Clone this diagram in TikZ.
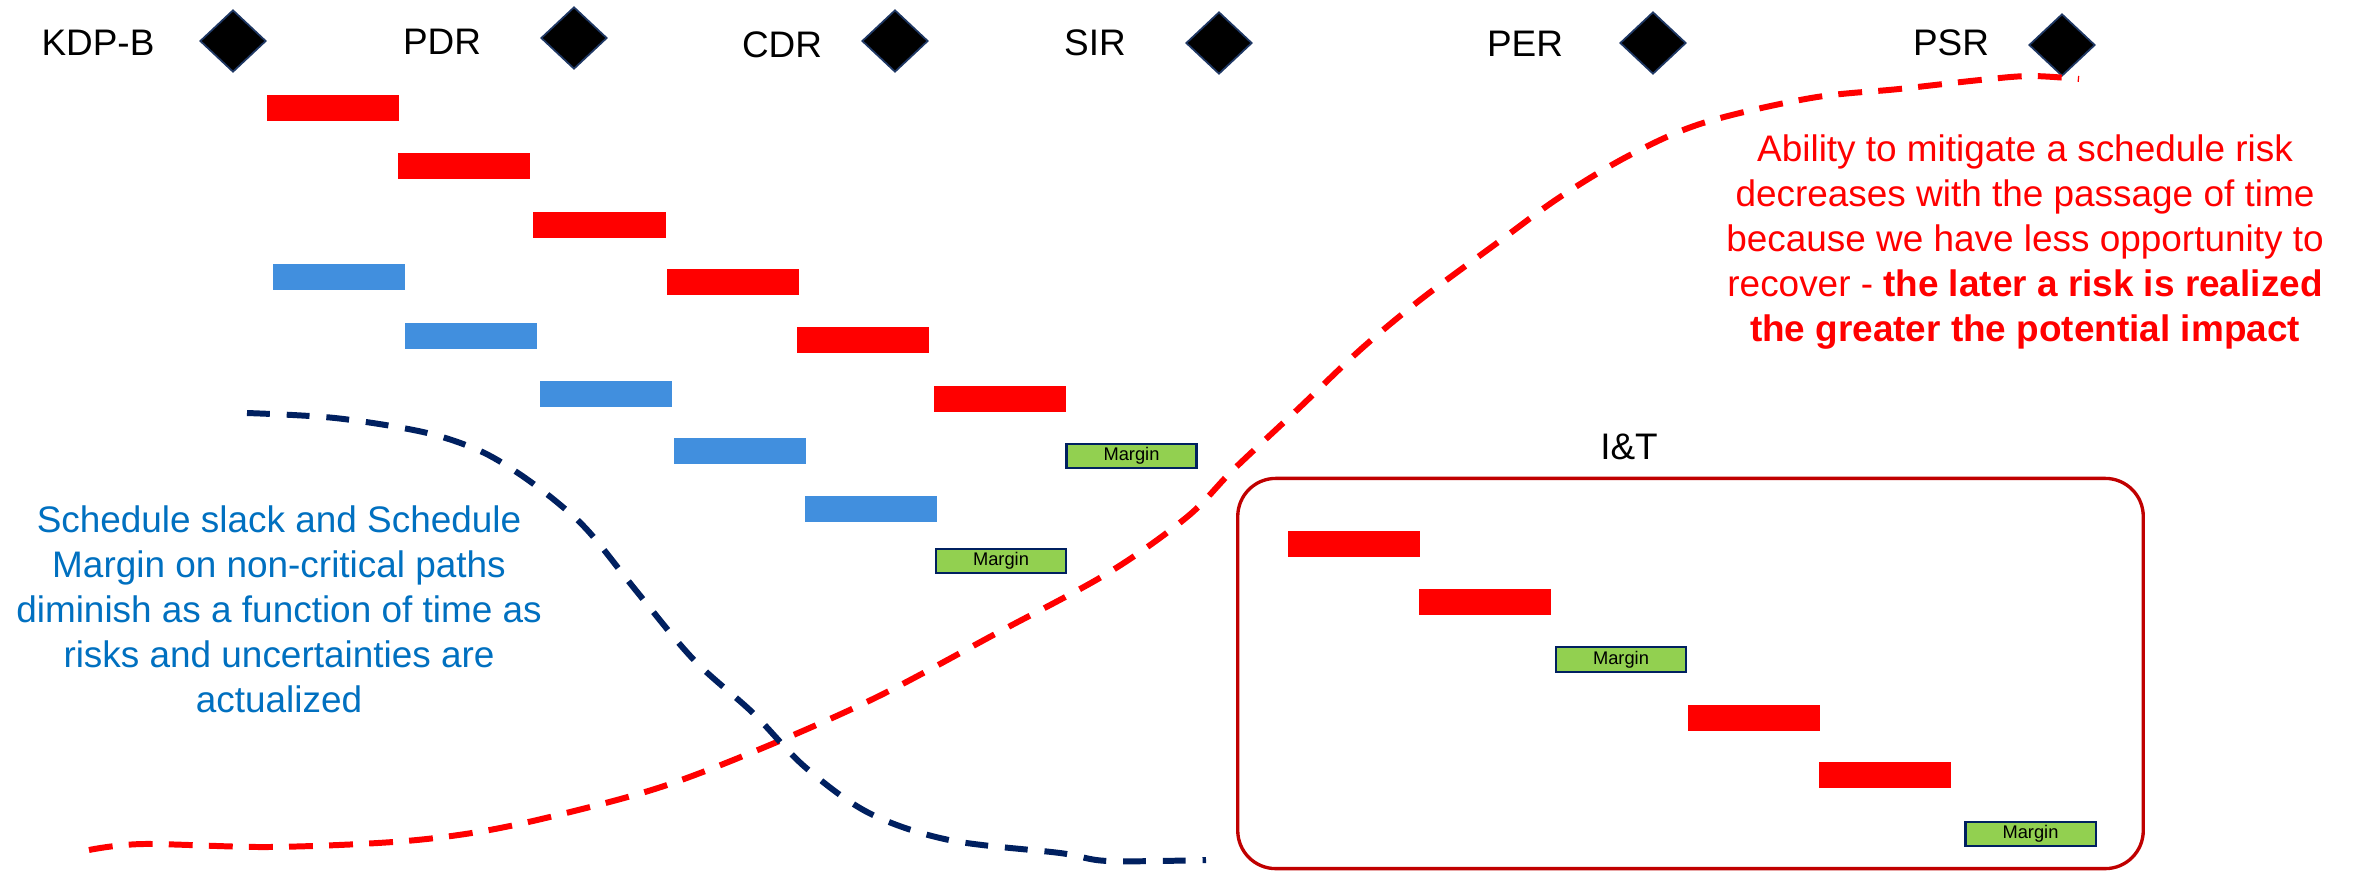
\documentclass[tikz,border=0pt]{standalone}
\usepackage{fontspec}
\setmainfont{Liberation Sans}
\usetikzlibrary{shapes.geometric}
\definecolor{barred}{RGB}{255,0,0}
\definecolor{barblue}{RGB}{65,143,222}
\definecolor{navy}{RGB}{0,32,96}
\definecolor{margingreen}{RGB}{146,208,80}
\definecolor{boxred}{RGB}{192,0,0}
\definecolor{noteblue}{RGB}{0,112,192}
\definecolor{diamondedge}{RGB}{31,56,100}

\begin{document}
\begin{tikzpicture}[x=0.01cm,y=-0.01cm,
  redbar/.style={rectangle,fill=barred,minimum width=1.32cm,minimum height=0.26cm,inner sep=0pt},
  bluebar/.style={rectangle,fill=barblue,minimum width=1.32cm,minimum height=0.26cm,inner sep=0pt},
  marginbox/.style={rectangle,fill=margingreen,draw=navy,line width=0.6pt,minimum width=1.3cm,minimum height=0.245cm,inner sep=0pt,font=\fontsize{5.2}{6}\selectfont},
  milestone/.style={diamond,fill=black,draw=diamondedge,line width=0.5pt,minimum width=0.66cm,minimum height=0.62cm,inner sep=0pt},
  msname/.style={font=\fontsize{10.5}{12.8}\selectfont,inner sep=0pt},
  riskcurve/.style={draw=barred,line width=1.7pt,dash pattern=on 6.8pt off 4.6pt},
  slackcurve/.style={draw=navy,line width=1.7pt,dash pattern=on 6.5pt off 4.8pt},
]
\fill[white] (0,0) rectangle (2354,872);
\useasboundingbox (0,0) rectangle (2354,872);

% milestone row
\node[msname] (kdpb) at (98,43) {KDP-B};
\node[milestone] (dkdpb) at (233,41) {};
\node[msname] (pdr) at (442,42) {PDR};
\node[milestone] (dpdr) at (574,38) {};
\node[msname] (cdr) at (782,45) {CDR};
\node[milestone] (dcdr) at (895,41) {};
\node[msname] (sir) at (1095,43) {SIR};
\node[milestone] (dsir) at (1219,43) {};
\node[msname] (per) at (1525,44) {PER};
\node[milestone] (dper) at (1653,43) {};
\node[msname] (psr) at (1951,43) {PSR};
\node[milestone] (dpsr) at (2062,45) {};

% critical path tasks
\node[redbar] (r1) at (333,107.5) {};
\node[redbar] (r2) at (464,165.5) {};
\node[redbar] (r3) at (599.5,224.5) {};
\node[redbar] (r4) at (733,281.5) {};
\node[redbar] (r5) at (863,340) {};
\node[redbar] (r6) at (1000,398.5) {};

% non-critical path tasks
\node[bluebar] (b1) at (339,277) {};
\node[bluebar] (b2) at (471,335.5) {};
\node[bluebar] (b3) at (606,394) {};
\node[bluebar] (b4) at (740,451) {};
\node[bluebar] (b5) at (871,508.5) {};

% schedule margins
\node[marginbox] (m1) at (1131.5,456) {Margin};
\node[marginbox] (m2) at (1001,561) {Margin};

% integration and test
\node[draw=boxred,line width=0.95pt,rounded corners=0.38cm,minimum width=9.05cm,minimum height=3.9cm,inner sep=0pt] (itbox) at (1690.5,673.5) {};
\node[msname] (itlabel) at (1629,447) {I\&T};
\node[redbar] (t1) at (1354,544) {};
\node[redbar] (t2) at (1485,602) {};
\node[marginbox] (tm1) at (1621,659.5) {Margin};
\node[redbar] (t3) at (1754,718) {};
\node[redbar] (t4) at (1885,775) {};
\node[marginbox] (tm2) at (2030.5,834) {Margin};

% risk mitigation ability over time
\draw[riskcurve] plot[smooth,tension=0.55] coordinates {
  (89,850) (143,844) (268,847) (393,842) (478,832) (558,815) (661,787)
  (765,747) (877,697) (997,633) (1108,573) (1187,517) (1233,470)
  (1297,410) (1360,350) (1420,300) (1497,243) (1560,197) (1630,155)
  (1703,123) (1811,98) (1899,89) (1980,80) (2030,76) (2079,79)};

% remaining slack over time
\draw[slackcurve] plot[smooth,tension=0.55] coordinates {
  (247,413) (335,418) (423,432) (478,450) (518,473) (558,503) (590,533)
  (638,593) (694,660) (753,713) (805,767) (869,813) (949,840)
  (1060,853) (1108,861) (1206,860)};

% notes
\node[msname,text=noteblue,align=center] (slacknote) at (279,609)
  {Schedule slack and Schedule\\Margin on non-critical paths\\diminish as a function of time as\\risks and uncertainties are\\actualized};
\node[msname,text=barred,align=center] (risknote) at (2025,242)
  {Ability to mitigate a schedule risk\\decreases with the passage of time\\because we have less opportunity to\\recover - \textbf{the later a risk is realized}\\\textbf{the greater the potential impact}};
\end{tikzpicture}
\end{document}
